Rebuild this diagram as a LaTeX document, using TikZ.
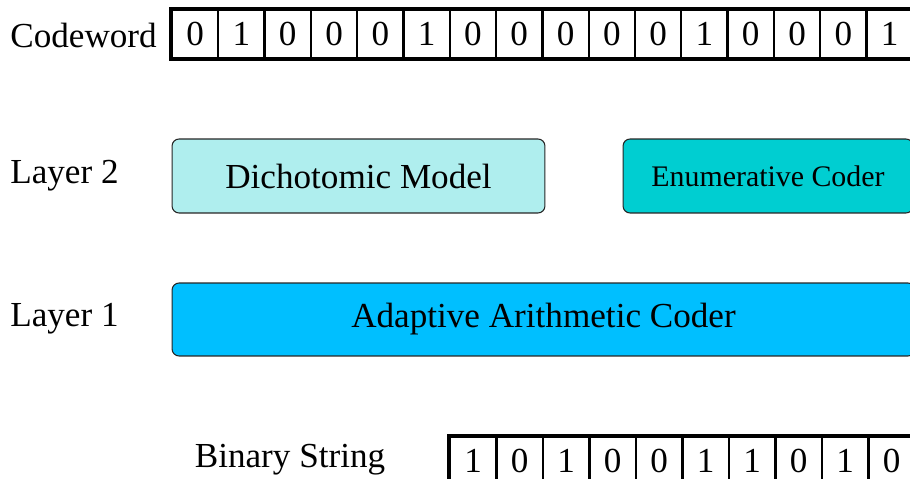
\documentclass[tikz,border=0pt]{standalone}
\usepackage{fontspec}
\setmainfont{Liberation Serif}
\definecolor{modelfill}{HTML}{AFEEEE}
\definecolor{enumfill}{HTML}{00CED1}
\definecolor{arithfill}{HTML}{00BFFF}
\tikzset{
  rowlabel/.style={anchor=west,inner sep=0pt},
  bitcell/.style={draw,line width=1.3pt,minimum width=0.926cm,minimum height=0.96cm,inner sep=0pt},
  layerbox/.style={draw=black!85,line width=0.6pt,rounded corners=4pt,minimum height=1.48cm,inner sep=0pt}
}
\begin{document}
\begin{tikzpicture}[x=0.02cm,y=-0.02cm,font=\fontsize{20}{24}\selectfont]
\path[use as bounding box,clip] (0,0) rectangle (910,479);
% codeword row
\node[rowlabel] (cwlabel) at (10,35) {Codeword};
\foreach \b [count=\i] in {0,1,0,0,0,1,0,0,0,0,0,1,0,0,0,1}
  \node[bitcell] (cw\i) at (172+46.3*\i-23.15,34) {\b};
\draw[line width=1.8pt] (cw1.north west) rectangle (cw16.south east);
% layer 2
\node[rowlabel] (ltwo) at (10,176) {Layer 2};
\node[layerbox,fill=modelfill,minimum width=7.46cm] (model) at (358.5,176) {Dichotomic Model};
\node[layerbox,fill=enumfill,minimum width=5.8cm,font=\fontsize{17}{20}\selectfont] (enum) at (768,176) {Enumerative Coder};
% layer 1
\node[rowlabel] (lone) at (10,319) {Layer 1};
\node[layerbox,fill=arithfill,minimum width=14.86cm,minimum height=1.46cm] (arith) at (543.5,319.5) {Adaptive Arithmetic Coder};
% binary string row
\node (bslabel) at (290,460) {Binary String};
\foreach \b [count=\i] in {1,0,1,0,0,1,1,0,1,0}
  \node[bitcell] (bs\i) at (450+46.5*\i-23.25,461) {\b};
\draw[line width=1.8pt] (bs1.north west) rectangle (bs10.south east);
\end{tikzpicture}
\end{document}
